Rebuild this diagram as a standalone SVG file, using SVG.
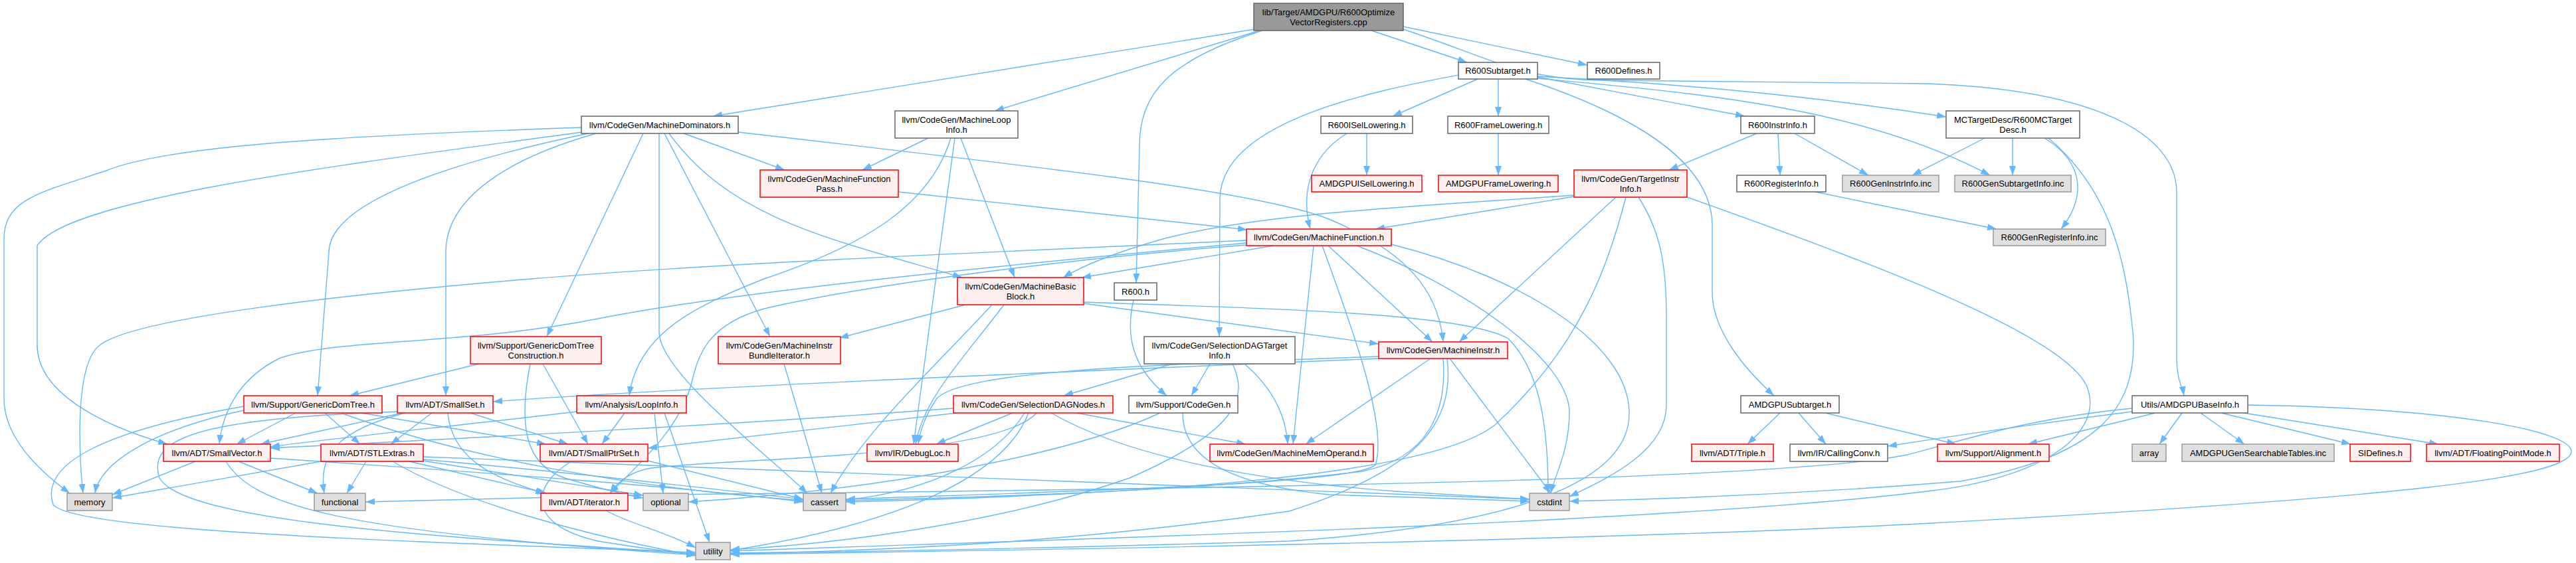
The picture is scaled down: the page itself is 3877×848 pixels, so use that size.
<svg xmlns="http://www.w3.org/2000/svg" width="3877" height="848" viewBox="0 0 3877 848">
<style>
.w{fill:#ffffff;stroke:#666666;stroke-width:1.5}
.r{fill:#fff0f0;stroke:#ff0000;stroke-width:1.5}
.g{fill:#e0e0e0;stroke:#999999;stroke-width:1.5}
.root{fill:#999999;stroke:#666666;stroke-width:1.5}
text{font-family:"Liberation Sans",Arial,sans-serif;font-size:13px;fill:#000;text-anchor:middle}
.e{fill:none;stroke:#63b8ff;stroke-width:1.4;marker-end:url(#a)}
</style>
<defs>
<marker id="a" markerWidth="14" markerHeight="10" refX="14" refY="5" orient="auto" markerUnits="userSpaceOnUse"><path d="M0,0 L14,5 L0,10 z" fill="#63b8ff"/></marker>
</defs>
<rect width="3877" height="848" fill="#ffffff"/>
<g id="connectors">
<path class="e" d="M1888,44 L1073,175"/>
<path class="e" d="M1896,46 L1497,167"/>
<path class="e" d="M1900,46 C1760,90 1715,140 1715,220 L1710,426"/>
<path class="e" d="M2064,46 L2208,94"/>
<path class="e" d="M2112,40 L2389,98"/>
<path class="e" d="M2112,44 C2250,90 2290,121 2420,121 L2900,126 C3150,135 3276,200 3276,290 L3276,540 C3276,570 3285,585 3287,596"/>
<path class="e" d="M2224,119 L2096,175"/>
<path class="e" d="M2255,119 L2255,175"/>
<path class="e" d="M2314,116 L2626,175"/>
<path class="e" d="M2195,113 C2080,135 1836,180 1836,300 L1835,507"/>
<path class="e" d="M2296,119 C2450,170 2577,240 2577,340 L2577,440 C2577,500 2630,560 2670,596"/>
<path class="e" d="M2314,118 C2550,140 2800,160 2995,264"/>
<path class="e" d="M2314,115 C2500,125 2700,140 2929,176"/>
<path class="e" d="M875,192 C500,205 250,220 160,257 C60,290 6,300 6,360 L6,600 C6,660 60,710 105,743"/>
<path class="e" d="M876,199 C500,250 100,300 56,370 L56,520 C56,590 150,640 252,669"/>
<path class="e" d="M885,201 C700,240 495,300 495,380 L478,596"/>
<path class="e" d="M897,201 C760,240 671,300 671,380 L671,596"/>
<path class="e" d="M968,201 L823,507"/>
<path class="e" d="M1111,199 C1600,255 1900,290 2000,330 C2120,380 2165,440 2172,515"/>
<path class="e" d="M1029,201 L1181,256"/>
<path class="e" d="M1007,201 C1100,330 1250,360 1448,418"/>
<path class="e" d="M1000,201 L1159,507"/>
<path class="e" d="M992,201 L992,500 C992,560 1150,680 1215,743"/>
<path class="e" d="M1397,208 L1298,256"/>
<path class="e" d="M1431,208 C1400,310 1300,370 1150,420 C1050,460 960,500 947,596"/>
<path class="e" d="M1437,208 L1375,669"/>
<path class="e" d="M1446,208 L1527,418"/>
<path class="e" d="M1352,289 L1877,346"/>
<path class="e" d="M2057,201 L2057,264"/>
<path class="e" d="M2027,201 C1980,230 1955,280 1972,345"/>
<path class="e" d="M2255,201 L2255,264"/>
<path class="e" d="M2644,201 L2512,256"/>
<path class="e" d="M2676,201 L2679,264"/>
<path class="e" d="M2701,201 L2812,264"/>
<path class="e" d="M2987,208 L2878,264"/>
<path class="e" d="M3029,208 L3029,264"/>
<path class="e" d="M3077,208 C3130,240 3145,290 3102,345"/>
<path class="e" d="M3083,208 C3180,290 3200,400 3210,500 C3220,620 3150,690 2950,725 C2700,745 2500,752 2362,755"/>
<path class="e" d="M2732,289 L3005,345"/>
<path class="e" d="M2369,294 C2150,310 1900,320 1750,360 C1680,380 1630,400 1600,418"/>
<path class="e" d="M2369,296 L2070,345"/>
<path class="e" d="M2432,297 L2196,515"/>
<path class="e" d="M2447,297 C2420,400 2380,520 2250,640 C2150,720 1700,745 1273,756"/>
<path class="e" d="M2466,297 C2500,350 2508,400 2508,480 L2508,610 C2508,680 2420,720 2362,748"/>
<path class="e" d="M2539,297 C2800,390 3100,500 3140,580 C3170,650 3080,720 2900,740 C2500,790 1500,815 1099,830"/>
<path class="e" d="M1917,370 L1628,418"/>
<path class="e" d="M1876,362 C1500,380 1100,395 800,420 C500,445 200,480 150,520 C110,550 120,700 125,743"/>
<path class="e" d="M1876,366 C1500,400 1100,440 900,480 C700,520 500,510 420,540 C360,570 335,620 330,669"/>
<path class="e" d="M1876,369 C1600,390 1300,430 1150,465 C1060,490 1050,540 1040,580 C1020,650 960,700 918,743"/>
<path class="e" d="M1977,370 L1946,669"/>
<path class="e" d="M1990,370 C2030,480 2090,640 2070,700 C2040,730 1600,740 1273,752"/>
<path class="e" d="M1999,370 L2156,515"/>
<path class="e" d="M2042,370 C2200,430 2360,540 2362,620 C2362,680 2340,715 2334,743"/>
<path class="e" d="M2094,368 C2300,420 2450,520 2452,620 C2455,720 2300,790 1940,815 C1500,828 1200,832 1099,833"/>
<path class="e" d="M1453,459 L1263,509"/>
<path class="e" d="M1493,459 C1400,560 1300,650 1250,743"/>
<path class="e" d="M1511,459 C1450,540 1390,600 1378,669"/>
<path class="e" d="M1631,455 C1900,465 2200,470 2270,510 C2320,560 2330,650 2330,743"/>
<path class="e" d="M1631,457 L2075,518"/>
<path class="e" d="M1765,548 L1601,596"/>
<path class="e" d="M1821,548 L1793,596"/>
<path class="e" d="M1855,548 C1880,600 1860,650 1700,720 C1500,790 1250,820 1099,828"/>
<path class="e" d="M1873,548 C1910,580 1935,620 1938,669"/>
<path class="e" d="M2153,540 L1965,669"/>
<path class="e" d="M2172,540 C2178,620 2150,690 2050,710 C1800,740 1500,748 1273,754"/>
<path class="e" d="M2178,540 C2190,640 2130,710 1940,770 C1600,820 1300,830 1099,834"/>
<path class="e" d="M2182,540 L2334,743"/>
<path class="e" d="M2075,537 C1700,550 1450,560 1410,600 C1390,630 1385,650 1382,669"/>
<path class="e" d="M2075,540 C1600,560 1000,585 742,605"/>
<path class="e" d="M1435,615 C1100,640 700,660 407,675"/>
<path class="e" d="M1440,622 L975,675"/>
<path class="e" d="M1524,622 L1409,669"/>
<path class="e" d="M1542,622 C1500,690 1400,740 1273,753"/>
<path class="e" d="M1548,622 C1510,720 1350,790 1099,829"/>
<path class="e" d="M1560,622 C1500,690 1100,690 980,705 C950,710 930,725 918,743"/>
<path class="e" d="M1582,622 C1700,690 1900,725 2100,740 L2302,752"/>
<path class="e" d="M1620,622 L1875,669"/>
<path class="e" d="M1746,622 C1600,690 1300,740 1036,756"/>
<path class="e" d="M1780,622 C1780,690 1850,730 2000,745 L2302,755"/>
<path class="e" d="M1180,548 L1237,743"/>
<path class="e" d="M721,548 L526,596"/>
<path class="e" d="M817,548 L885,669"/>
<path class="e" d="M798,548 C780,640 790,700 850,720 C900,735 940,745 968,750"/>
<path class="e" d="M367,612 C150,650 60,700 80,760 C110,800 600,815 1047,832"/>
<path class="e" d="M367,618 C220,650 150,700 143,743"/>
<path class="e" d="M445,622 L356,669"/>
<path class="e" d="M489,622 L542,669"/>
<path class="e" d="M513,622 C700,690 950,735 1209,754"/>
<path class="e" d="M544,622 L822,669"/>
<path class="e" d="M600,620 C300,630 220,660 240,720 C280,790 700,810 1047,834"/>
<path class="e" d="M610,622 C500,650 480,690 488,743"/>
<path class="e" d="M606,622 L392,669"/>
<path class="e" d="M650,622 L588,669"/>
<path class="e" d="M674,622 C680,690 740,720 820,743"/>
<path class="e" d="M708,622 L855,669"/>
<path class="e" d="M868,620 C700,640 500,660 407,673"/>
<path class="e" d="M940,622 L906,669"/>
<path class="e" d="M985,622 L998,743"/>
<path class="e" d="M1000,622 L1068,817"/>
<path class="e" d="M294,695 L169,745"/>
<path class="e" d="M359,695 L478,743"/>
<path class="e" d="M340,695 C380,760 500,800 1047,836"/>
<path class="e" d="M407,690 C700,710 1000,730 1209,756"/>
<path class="e" d="M483,695 L169,750"/>
<path class="e" d="M551,695 L522,743"/>
<path class="e" d="M591,695 C700,760 900,810 1047,837"/>
<path class="e" d="M616,695 L823,743"/>
<path class="e" d="M637,688 C1000,705 1800,730 2302,752"/>
<path class="e" d="M637,692 C900,715 1100,740 1209,752"/>
<path class="e" d="M637,694 L968,746"/>
<path class="e" d="M860,695 C800,730 790,790 900,815 C960,825 1000,830 1047,836"/>
<path class="e" d="M975,694 L1209,752"/>
<path class="e" d="M912,769 C950,790 1000,800 1047,825"/>
<path class="e" d="M2679,622 L2630,669"/>
<path class="e" d="M2707,622 L2748,669"/>
<path class="e" d="M2747,622 L2944,669"/>
<path class="e" d="M3244,622 L3052,669"/>
<path class="e" d="M3284,622 L3250,669"/>
<path class="e" d="M3312,622 L3378,669"/>
<path class="e" d="M3343,622 L3538,669"/>
<path class="e" d="M3377,622 L3670,669"/>
<path class="e" d="M3209,620 C3050,640 2950,655 2841,672"/>
<path class="e" d="M3209,615 C3050,630 2950,665 2870,685 C2700,720 2000,735 1000,745 L550,756"/>
<path class="e" d="M3383,610 C3700,615 3870,650 3870,680 C3870,720 3600,750 2907,788 C2400,815 1600,828 1099,835"/>
<path class="e" d="M1706,452 C1695,500 1700,550 1756,596"/>
</g>
<g id="n_main"><rect class="root" x="1887" y="5" width="225" height="41"/><text x="1999.5" y="22.5">lib/Target/AMDGPU/R600Optimize</text><text x="1999.5" y="37.5">VectorRegisters.cpp</text></g>
<g id="n_r600sub"><rect class="w" x="2195" y="94" width="119" height="25"/><text x="2254.5" y="111">R600Subtarget.h</text></g>
<g id="n_r600def"><rect class="w" x="2389" y="94" width="109" height="25"/><text x="2443.5" y="111">R600Defines.h</text></g>
<g id="n_mdom"><rect class="w" x="875" y="175" width="236" height="26"/><text x="993" y="192.5">llvm/CodeGen/MachineDominators.h</text></g>
<g id="n_mloop"><rect class="w" x="1347" y="167" width="185" height="41"/><text x="1439.5" y="184.5">llvm/CodeGen/MachineLoop</text><text x="1439.5" y="199.5">Info.h</text></g>
<g id="n_isel"><rect class="w" x="1988" y="175" width="138" height="26"/><text x="2057" y="192.5">R600ISelLowering.h</text></g>
<g id="n_frame"><rect class="w" x="2179" y="175" width="152" height="26"/><text x="2255" y="192.5">R600FrameLowering.h</text></g>
<g id="n_instr"><rect class="w" x="2620" y="175" width="111" height="26"/><text x="2675.5" y="192.5">R600InstrInfo.h</text></g>
<g id="n_mctd"><rect class="w" x="2929" y="167" width="201" height="41"/><text x="3029.5" y="184.5">MCTargetDesc/R600MCTarget</text><text x="3029.5" y="199.5">Desc.h</text></g>
<g id="n_mfp"><rect class="r" x="1144" y="256" width="208" height="41"/><text x="1248" y="273.5">llvm/CodeGen/MachineFunction</text><text x="1248" y="288.5">Pass.h</text></g>
<g id="n_amdisel"><rect class="r" x="1974" y="264" width="166" height="25"/><text x="2057" y="281">AMDGPUISelLowering.h</text></g>
<g id="n_amdframe"><rect class="r" x="2165" y="264" width="180" height="25"/><text x="2255" y="281">AMDGPUFrameLowering.h</text></g>
<g id="n_tii"><rect class="r" x="2369" y="256" width="170" height="41"/><text x="2454" y="273.5">llvm/CodeGen/TargetInstr</text><text x="2454" y="288.5">Info.h</text></g>
<g id="n_reginfo"><rect class="w" x="2614" y="264" width="134" height="25"/><text x="2681" y="281">R600RegisterInfo.h</text></g>
<g id="n_geninstr"><rect class="g" x="2773" y="264" width="145" height="25"/><text x="2845.5" y="281">R600GenInstrInfo.inc</text></g>
<g id="n_gensub"><rect class="g" x="2942" y="264" width="175" height="25"/><text x="3029.5" y="281">R600GenSubtargetInfo.inc</text></g>
<g id="n_mf"><rect class="r" x="1876" y="345" width="218" height="25"/><text x="1985" y="362">llvm/CodeGen/MachineFunction.h</text></g>
<g id="n_genreg"><rect class="g" x="3000" y="345" width="169" height="25"/><text x="3084.5" y="362">R600GenRegisterInfo.inc</text></g>
<g id="n_mbb"><rect class="r" x="1441" y="418" width="190" height="41"/><text x="1536" y="435.5">llvm/CodeGen/MachineBasic</text><text x="1536" y="450.5">Block.h</text></g>
<g id="n_r600"><rect class="w" x="1677" y="426" width="64" height="26"/><text x="1709" y="443.5">R600.h</text></g>
<g id="n_gdtc"><rect class="r" x="708" y="507" width="197" height="41"/><text x="806.5" y="524.5">llvm/Support/GenericDomTree</text><text x="806.5" y="539.5">Construction.h</text></g>
<g id="n_mibi"><rect class="r" x="1081" y="507" width="184" height="41"/><text x="1173" y="524.5">llvm/CodeGen/MachineInstr</text><text x="1173" y="539.5">BundleIterator.h</text></g>
<g id="n_sdti"><rect class="w" x="1722" y="507" width="227" height="41"/><text x="1835.5" y="524.5">llvm/CodeGen/SelectionDAGTarget</text><text x="1835.5" y="539.5">Info.h</text></g>
<g id="n_mi"><rect class="r" x="2075" y="515" width="194" height="25"/><text x="2172" y="532">llvm/CodeGen/MachineInstr.h</text></g>
<g id="n_gdt"><rect class="r" x="367" y="596" width="208" height="26"/><text x="471" y="613.5">llvm/Support/GenericDomTree.h</text></g>
<g id="n_smallset"><rect class="r" x="598" y="596" width="144" height="26"/><text x="670" y="613.5">llvm/ADT/SmallSet.h</text></g>
<g id="n_loopinfo"><rect class="r" x="868" y="596" width="165" height="26"/><text x="950.5" y="613.5">llvm/Analysis/LoopInfo.h</text></g>
<g id="n_sdnodes"><rect class="r" x="1435" y="596" width="240" height="26"/><text x="1555" y="613.5">llvm/CodeGen/SelectionDAGNodes.h</text></g>
<g id="n_cg"><rect class="w" x="1699" y="596" width="164" height="26"/><text x="1781" y="613.5">llvm/Support/CodeGen.h</text></g>
<g id="n_amdsub"><rect class="w" x="2620" y="596" width="148" height="26"/><text x="2694" y="613.5">AMDGPUSubtarget.h</text></g>
<g id="n_baseinfo"><rect class="w" x="3209" y="596" width="174" height="26"/><text x="3296" y="613.5">Utils/AMDGPUBaseInfo.h</text></g>
<g id="n_smallvec"><rect class="r" x="246" y="669" width="161" height="26"/><text x="326.5" y="686.5">llvm/ADT/SmallVector.h</text></g>
<g id="n_stl"><rect class="r" x="483" y="669" width="154" height="26"/><text x="560" y="686.5">llvm/ADT/STLExtras.h</text></g>
<g id="n_smallptr"><rect class="r" x="813" y="669" width="162" height="26"/><text x="894" y="686.5">llvm/ADT/SmallPtrSet.h</text></g>
<g id="n_debugloc"><rect class="r" x="1305" y="669" width="137" height="26"/><text x="1373.5" y="686.5">llvm/IR/DebugLoc.h</text></g>
<g id="n_mmo"><rect class="r" x="1821" y="669" width="246" height="26"/><text x="1944" y="686.5">llvm/CodeGen/MachineMemOperand.h</text></g>
<g id="n_triple"><rect class="r" x="2546" y="669" width="123" height="26"/><text x="2607.5" y="686.5">llvm/ADT/Triple.h</text></g>
<g id="n_cc"><rect class="w" x="2694" y="669" width="147" height="26"/><text x="2767.5" y="686.5">llvm/IR/CallingConv.h</text></g>
<g id="n_align"><rect class="r" x="2916" y="669" width="168" height="26"/><text x="3000" y="686.5">llvm/Support/Alignment.h</text></g>
<g id="n_array"><rect class="g" x="3209" y="669" width="51" height="26"/><text x="3234.5" y="686.5">array</text></g>
<g id="n_search"><rect class="g" x="3284" y="669" width="229" height="26"/><text x="3398.5" y="686.5">AMDGPUGenSearchableTables.inc</text></g>
<g id="n_sidef"><rect class="r" x="3537" y="669" width="91" height="26"/><text x="3582.5" y="686.5">SIDefines.h</text></g>
<g id="n_fpm"><rect class="r" x="3652" y="669" width="200" height="26"/><text x="3752" y="686.5">llvm/ADT/FloatingPointMode.h</text></g>
<g id="n_memory"><rect class="g" x="101" y="743" width="68" height="26"/><text x="135" y="760.5">memory</text></g>
<g id="n_functional"><rect class="g" x="473" y="743" width="77" height="26"/><text x="511.5" y="760.5">functional</text></g>
<g id="n_iterator"><rect class="r" x="814" y="743" width="131" height="26"/><text x="879.5" y="760.5">llvm/ADT/iterator.h</text></g>
<g id="n_optional"><rect class="g" x="968" y="743" width="68" height="26"/><text x="1002" y="760.5">optional</text></g>
<g id="n_cassert"><rect class="g" x="1209" y="743" width="64" height="26"/><text x="1241" y="760.5">cassert</text></g>
<g id="n_cstdint"><rect class="g" x="2302" y="743" width="60" height="26"/><text x="2332" y="760.5">cstdint</text></g>
<g id="n_utility"><rect class="g" x="1047" y="817" width="52" height="26"/><text x="1073" y="834.5">utility</text></g>
</svg>
